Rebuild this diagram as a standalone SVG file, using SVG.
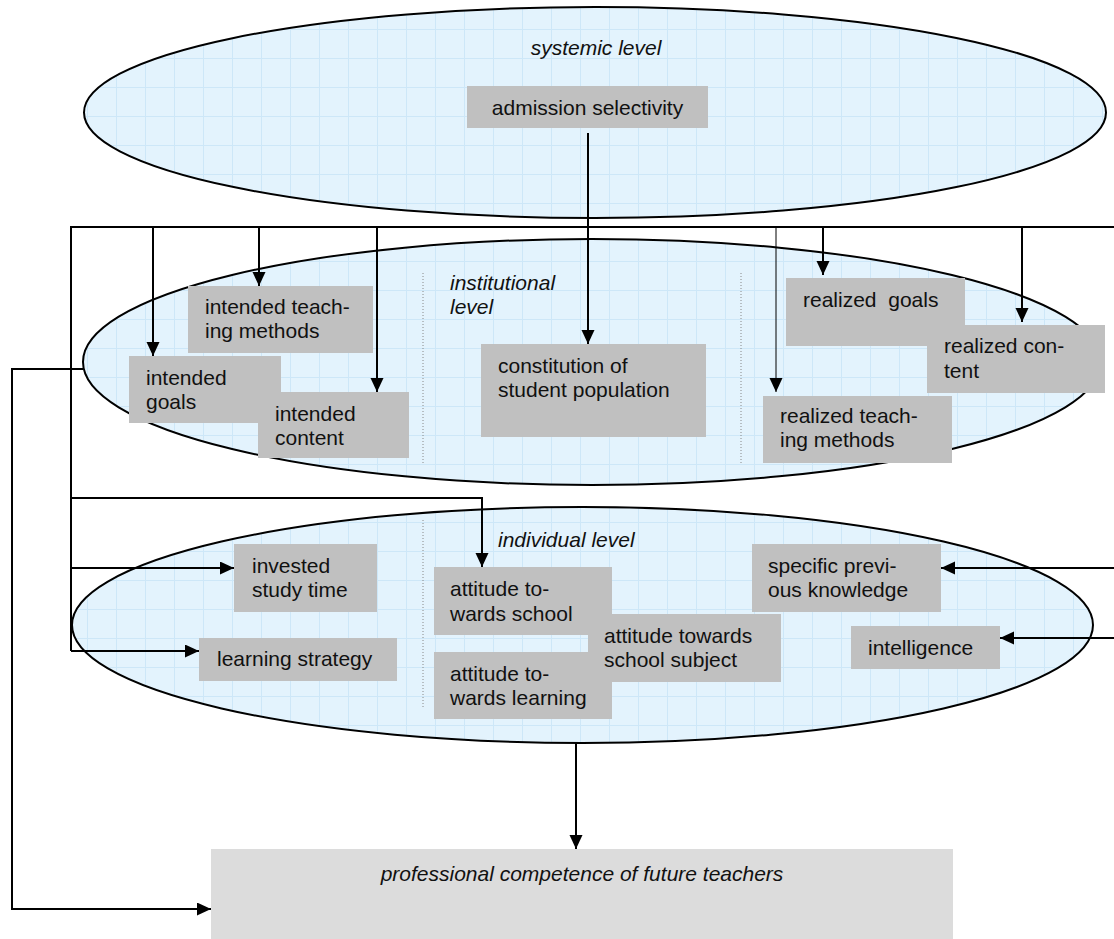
<svg xmlns="http://www.w3.org/2000/svg" width="1114" height="939" viewBox="0 0 1114 939">
<defs>
<pattern id="grid" width="29" height="29" patternUnits="userSpaceOnUse">
<rect width="29" height="29" fill="#E3F3FD"/>
<path d="M0,0.5 H29 M0.5,0 V29" stroke="#CDE7F8" stroke-width="1" fill="none"/>
</pattern>
<marker id="ah" markerUnits="userSpaceOnUse" markerWidth="15" markerHeight="14" refX="14" refY="6.5" orient="auto">
<path d="M0,0 L14,6.5 L0,13 z" fill="#000"/>
</marker>
<style>
.ell{fill:url(#grid);stroke:#000;stroke-width:2}
.box{fill:#C0C0C0}
.big{fill:#DCDCDC}
.t{font-family:"Liberation Sans",Arial,sans-serif;font-size:21px;fill:#111}
.i{font-style:italic}
.c{fill:none;stroke:#000;stroke-width:2}
.thin{fill:none;stroke:#000;stroke-width:1}
.dot{fill:none;stroke:#888;stroke-width:1;stroke-dasharray:1 2}
</style>
</defs>
<rect width="1114" height="939" fill="#fff"/>

<g id="systemic-level">
<ellipse class="ell" cx="595" cy="112.5" rx="511" ry="105.5"/>
<text class="t i" x="596" y="55" text-anchor="middle">systemic level</text>
</g>
<g id="institutional-level">
<ellipse class="ell" cx="592" cy="362" rx="509" ry="123"/>
<text class="t i" x="450" y="290">institutional</text>
<text class="t i" x="450" y="314">level</text>
<path class="dot" d="M423,273 V463 M741,273 V463"/>
</g>
<g id="individual-level">
<ellipse class="ell" cx="582.5" cy="625" rx="510.5" ry="118"/>
<text class="t i" x="498" y="547">individual level</text>
<path class="dot" d="M423,520 V709"/>
</g>

<g id="connectors">
<path class="c" d="M71,651 V227 H1114"/>
<path class="c" d="M153,227 V356" marker-end="url(#ah)"/>
<path class="c" d="M259,227 V286" marker-end="url(#ah)"/>
<path class="c" d="M377,227 V392" marker-end="url(#ah)"/>
<path class="c" d="M588,133 V344" marker-end="url(#ah)"/>
<path class="thin" d="M776,227 V392" marker-end="url(#ah)"/>
<path class="c" d="M823,227 V275" marker-end="url(#ah)"/>
<path class="c" d="M1022,227 V322" marker-end="url(#ah)"/>
<path class="c" d="M71,498 H482 V567" marker-end="url(#ah)"/>
<path class="c" d="M71,568 H234" marker-end="url(#ah)"/>
<path class="c" d="M71,651 H199" marker-end="url(#ah)"/>
<path class="c" d="M1114,568 H941" marker-end="url(#ah)"/>
<path class="c" d="M1114,638 H1000" marker-end="url(#ah)"/>
<path class="c" d="M83,369 H12 V909 H211" marker-end="url(#ah)"/>
<path class="c" d="M576,743 V849" marker-end="url(#ah)"/>
</g>

<g id="admission-selectivity">
<rect class="box" x="467" y="86" width="241" height="42"/>
<text class="t" x="587.5" y="115" text-anchor="middle">admission selectivity</text>
</g>

<g id="intended-teaching-methods">
<rect class="box" x="188" y="286" width="185" height="67"/>
<text class="t" x="205" y="314">intended teach-</text>
<text class="t" x="205" y="338">ing methods</text>
</g>
<g id="intended-goals">
<rect class="box" x="129" y="356" width="152" height="67"/>
<text class="t" x="146" y="385">intended</text>
<text class="t" x="146" y="409">goals</text>
</g>
<g id="intended-content">
<rect class="box" x="258" y="392" width="151" height="66"/>
<text class="t" x="275" y="421">intended</text>
<text class="t" x="275" y="445">content</text>
</g>
<g id="constitution-of-student-population">
<rect class="box" x="481" y="344" width="225" height="93"/>
<text class="t" x="498" y="373">constitution of</text>
<text class="t" x="498" y="397">student population</text>
</g>
<g id="realized-goals">
<rect class="box" x="786" y="278" width="179" height="68"/>
<text class="t" x="803" y="307" xml:space="preserve">realized  goals</text>
</g>
<g id="realized-content">
<rect class="box" x="927" y="325" width="178" height="68"/>
<text class="t" x="944" y="353">realized con-</text>
<text class="t" x="944" y="378">tent</text>
</g>
<g id="realized-teaching-methods">
<rect class="box" x="763" y="396" width="189" height="67"/>
<text class="t" x="780" y="423">realized teach-</text>
<text class="t" x="780" y="447">ing methods</text>
</g>

<g id="invested-study-time">
<rect class="box" x="234" y="544" width="143" height="68"/>
<text class="t" x="252" y="573">invested</text>
<text class="t" x="252" y="597">study time</text>
</g>
<g id="learning-strategy">
<rect class="box" x="199" y="638" width="198" height="43"/>
<text class="t" x="217" y="666">learning strategy</text>
</g>
<g id="attitude-towards-school">
<rect class="box" x="434" y="567" width="178" height="68"/>
<text class="t" x="450" y="596">attitude to-</text>
<text class="t" x="450" y="621">wards school</text>
</g>
<g id="attitude-towards-learning">
<rect class="box" x="434" y="652" width="178" height="67"/>
<text class="t" x="450" y="681">attitude to-</text>
<text class="t" x="450" y="705">wards learning</text>
</g>
<g id="attitude-towards-school-subject">
<rect class="box" x="588" y="614" width="193" height="68"/>
<text class="t" x="604" y="643">attitude towards</text>
<text class="t" x="604" y="667">school subject</text>
</g>
<g id="specific-previous-knowledge">
<rect class="box" x="752" y="544" width="189" height="68"/>
<text class="t" x="768" y="573">specific previ-</text>
<text class="t" x="768" y="597">ous knowledge</text>
</g>
<g id="intelligence">
<rect class="box" x="851" y="626" width="149" height="43"/>
<text class="t" x="868" y="655">intelligence</text>
</g>

<g id="professional-competence">
<rect class="big" x="211" y="849" width="742" height="90"/>
<text class="t i" x="582" y="881" text-anchor="middle">professional competence of future teachers</text>
</g>
</svg>
